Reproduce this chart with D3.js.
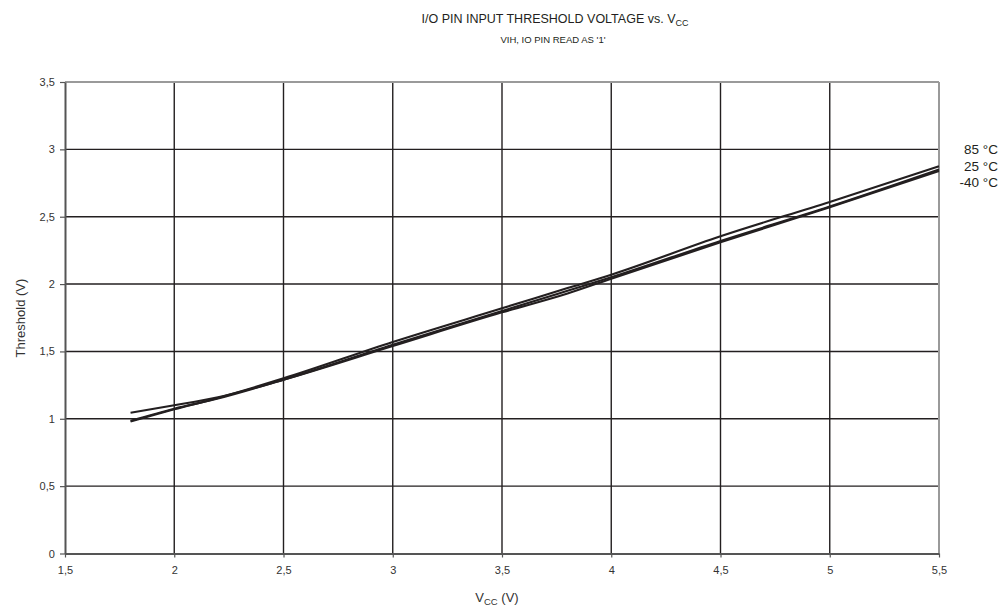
<!DOCTYPE html>
<html><head><meta charset="utf-8">
<script src="https://cdn.jsdelivr.net/npm/d3@7"></script>
<style>body{margin:0;background:#fff;font-family:"Liberation Sans",Arial,sans-serif;}</style>
</head><body><svg id="c" width="1005" height="610"></svg>
<script>
const vcc = [1.8, 2.0, 2.2, 2.5, 3.0, 3.5, 3.8, 4.0, 4.5, 5.0, 5.5];
const t85 = [0.98, 1.07, 1.155, 1.30, 1.57, 1.82, 1.97, 2.07, 2.355, 2.61, 2.875];
const t25 = [0.985, 1.075, 1.15, 1.29, 1.55, 1.80, 1.95, 2.05, 2.32, 2.575, 2.85];
const tm40 = [1.045, 1.10, 1.16, 1.29, 1.54, 1.79, 1.93, 2.04, 2.31, 2.57, 2.84];
const seriesNames = ["85 °C", "25 °C", "-40 °C"];
const xTicks = [1.5, 2, 2.5, 3, 3.5, 4, 4.5, 5, 5.5];
const yTicks = [0, 0.5, 1, 1.5, 2, 2.5, 3, 3.5];

const svg = d3.select("#c");
const m = {l: 65, r: 939, t: 82, b: 553.5};
const x = d3.scaleLinear().domain([1.5, 5.5]).range([m.l, m.r]);
const y = d3.scaleLinear().domain([0, 3.5]).range([m.b, m.t]);
const fmt = d => String(d).replace(".", ",");
const ink = "#231f20";

// grid
svg.append("g").selectAll("line").data(xTicks.slice(1, -1)).join("line")
  .attr("x1", d => x(d)).attr("x2", d => x(d)).attr("y1", m.t).attr("y2", m.b)
  .attr("stroke", ink).attr("stroke-width", 1.4);
svg.append("g").selectAll("line").data(yTicks.slice(1, -1)).join("line")
  .attr("y1", d => y(d)).attr("y2", d => y(d)).attr("x1", m.l).attr("x2", m.r)
  .attr("stroke", ink).attr("stroke-width", 1.4);
// frame top/right gray
svg.append("line").attr("x1", m.l).attr("x2", m.r).attr("y1", m.t).attr("y2", m.t).attr("stroke", "#9a9a9a").attr("stroke-width", 2);
svg.append("line").attr("x1", m.r).attr("x2", m.r).attr("y1", m.t).attr("y2", m.b).attr("stroke", "#9a9a9a").attr("stroke-width", 2);

// axes
const xa = svg.append("g").attr("transform", `translate(0,${m.b})`)
  .call(d3.axisBottom(x).tickValues(xTicks).tickFormat(fmt).tickSize(4).tickSizeOuter(0));
const ya = svg.append("g").attr("transform", `translate(${m.l},0)`)
  .call(d3.axisLeft(y).tickValues(yTicks).tickFormat(fmt).tickSize(5).tickSizeOuter(0));
[xa, ya].forEach(a => {
  a.select(".domain").attr("stroke", "#555").attr("stroke-width", 2);
  a.selectAll(".tick line").attr("stroke", "#555").attr("stroke-width", 1.2);
  a.selectAll("text").attr("fill", "#333").style("font-family", "Liberation Sans, Arial, sans-serif").style("font-size", "11px");
});
xa.selectAll("text").attr("dy", "1.25em");
ya.selectAll("text").attr("dx", "-0.2em");

// lines
const line = d3.line().x((d, i) => x(vcc[i])).y(d => y(d)).curve(d3.curveMonotoneX);
[t85, t25, tm40].forEach(s => {
  svg.append("path").datum(s).attr("d", line).attr("fill", "none")
    .attr("stroke", ink).attr("stroke-width", 2.1);
});

// right labels
svg.append("g").selectAll("text").data(seriesNames).join("text")
  .attr("x", 998).attr("y", (d, i) => 154 + i * 16.5).attr("text-anchor", "end")
  .attr("fill", ink).style("font-size", "13.5px").text(d => d);

// titles
const title = svg.append("text").attr("x", 555).attr("y", 23).attr("text-anchor", "middle")
  .attr("fill", ink).style("font-size", "12.5px");
title.append("tspan").text("I/O PIN INPUT THRESHOLD VOLTAGE vs. V");
title.append("tspan").attr("dy", 3).style("font-size", "9px").text("CC");
svg.append("text").attr("x", 553).attr("y", 43).attr("text-anchor", "middle")
  .attr("fill", ink).style("font-size", "9.5px").text("VIH, IO PIN READ AS '1'");

const xl = svg.append("text").attr("x", 497).attr("y", 602).attr("text-anchor", "middle")
  .attr("fill", "#333").style("font-size", "13px");
xl.append("tspan").text("V");
xl.append("tspan").attr("dy", 3).style("font-size", "9.5px").text("CC");
xl.append("tspan").attr("dy", -3).text(" (V)");

svg.append("text").attr("transform", "translate(25,318) rotate(-90)").attr("text-anchor", "middle")
  .attr("fill", "#333").style("font-size", "13px").text("Threshold (V)");
</script></body></html>
